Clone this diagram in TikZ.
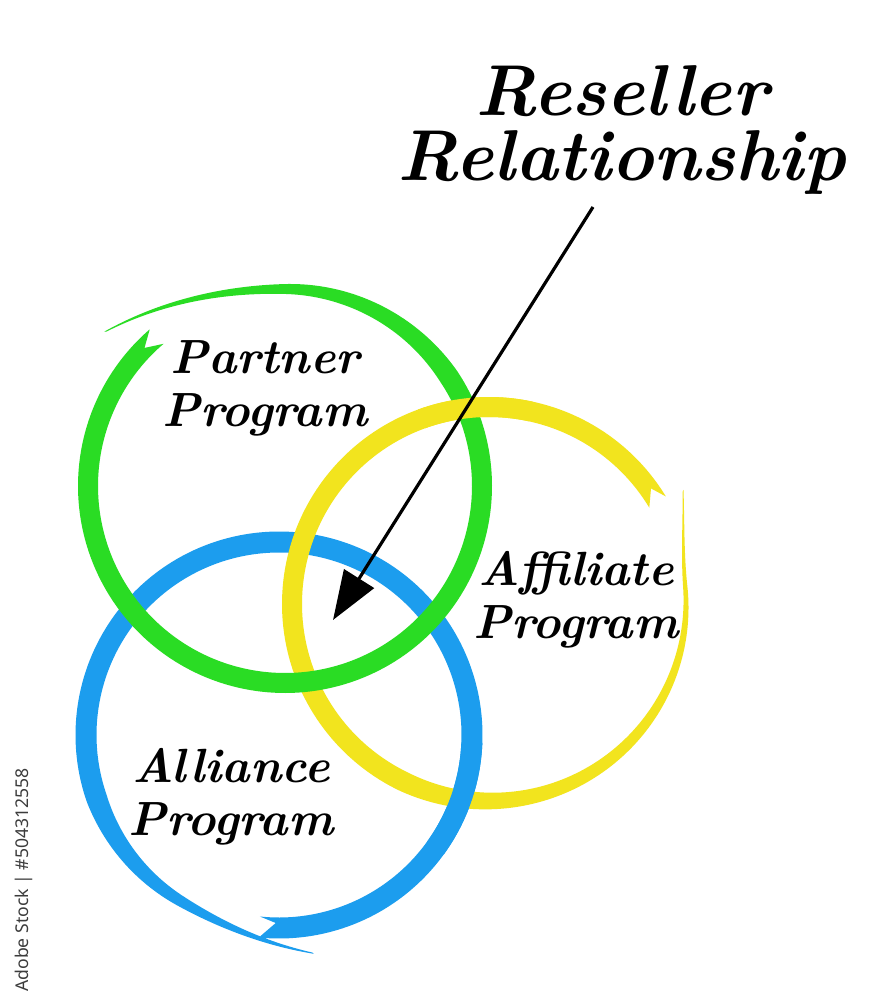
\documentclass[tikz,border=0pt]{standalone}
\usepackage{fontspec}
\newfontfamily\wmfont{Noto Sans}
\usetikzlibrary{arrows.meta}
\definecolor{ringgreen}{RGB}{42,220,36}
\definecolor{ringyellow}{RGB}{242,228,30}
\definecolor{ringblue}{RGB}{28,157,238}
\definecolor{wmgray}{RGB}{60,60,60}
\tikzset{
  lbl/.style={align=center, inner sep=0pt, font=\fontsize{24}{26.5}\selectfont\bfseries\itshape},
  ttl/.style={align=center, inner sep=0pt, font=\fontsize{36}{32.5}\selectfont\bfseries\itshape},
  pointer/.style={line width=1.6pt, -{Triangle[length=24.5pt,width=17.5pt]}},
  wmark/.style={rotate=90, inner sep=0pt, text=wmgray, font=\wmfont\fontsize{8.8}{10}\selectfont}
}
% #1 colour, #2 ring prefix, #3 cx, #4 cy, #5 t start, #6 t end, #7 extra path at the end, #8 samples
\newcommand\strokeband[8]{%
  \fill[#1] plot[domain=#5:#6, samples=#8, variable=\t]
      ({#3+(#2R(\t)+#2W(\t)/2)*cos(#2A(\t))},{#4-(#2R(\t)+#2W(\t)/2)*sin(#2A(\t))})
    #7
    -- plot[domain=#5:#6, samples=#8, variable=\s]
      ({#3+(#2R(#5+#6-\s)-#2W(#5+#6-\s)/2)*cos(#2A(#5+#6-\s))},{#4-(#2R(#5+#6-\s)-#2W(#5+#6-\s)/2)*sin(#2A(#5+#6-\s))})
    -- cycle;}
\begin{document}
\begin{tikzpicture}[x=0.5pt, y=-0.5pt,
  declare function={
    gA(\t)=139.5-369*\t;
    gR(\t)=197+41*max(0,(gA(\t)-90)/50)^2;
    gW(\t)=min(20,1+0.18*(139.5-gA(\t)));
    yA(\t)=30.4-359.4*\t;
    yR(\t)=197+28*max(0,(yA(\t)-5)/25.4)^2;
    yW(\t)=min(20,1+0.13*(30.4-yA(\t)));
    bA(\t)=-81-375*\t;
    bR(\t)=193+28*max(0,1-(-81-bA(\t))/40)^2;
    bW(\t)=min(21,1+0.25*(-81-bA(\t)));
  }]
\fill[white] (0,0) rectangle (893,1000);
\useasboundingbox (0,0) rectangle (893,1000);

% rings
\strokeband{ringblue}{b}{279}{735}{0}{1}{-- ({279+188*cos(-451)},{735-188*sin(-451)})}{300}
\strokeband{ringyellow}{y}{489}{604}{0}{1}{-- ({489+199*cos(-324.5)},{604-199*sin(-324.5)})}{300}
\strokeband{ringgreen}{g}{285}{486}{0}{1}{-- ({285+197*cos(-224.5)},{486-197*sin(-224.5)})}{300}
% over-crossings
\strokeband{ringyellow}{y}{489}{604}{0.78}{0.87}{}{40}
\strokeband{ringblue}{b}{279}{735}{0.75}{0.84}{}{40}

% texts
\node[ttl] (title) at (622,130) {Reseller\\Relationship};
\node[lbl] (partner) at (265,388) {Partner\\Program};
\node[lbl] (affiliate) at (576,600) {Affiliate\\Program};
\node[lbl] (alliance) at (231,797) {Alliance\\Program};
\node[wmark] (wm) at (24,880) {Adobe Stock | \#504312558};

% arrow
\coordinate (src) at (593,207);
\coordinate (tip) at (333,620);
\draw[pointer] (src) -- (tip);
\end{tikzpicture}
\end{document}
